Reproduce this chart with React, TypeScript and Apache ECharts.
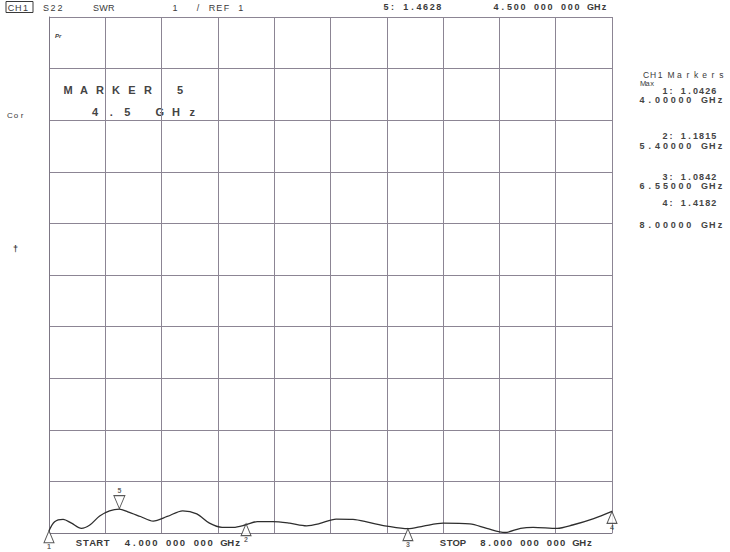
import React, { useEffect, useRef } from "react";
import * as echarts from "echarts";

const freqGHz = [4.0, 4.04, 4.1, 4.16, 4.23, 4.29, 4.36, 4.43, 4.5, 4.56, 4.65, 4.74, 4.84, 4.95, 5.05, 5.14, 5.23, 5.31, 5.4, 5.48, 5.59, 5.71, 5.83, 5.92, 6.04, 6.16, 6.28, 6.4, 6.55, 6.66, 6.8, 6.99, 7.11, 7.24, 7.35, 7.44, 7.61, 7.72, 7.87, 8.0];
const swr = [1.043, 1.22, 1.265, 1.19, 1.09, 1.155, 1.33, 1.43, 1.463, 1.41, 1.32, 1.23, 1.32, 1.43, 1.37, 1.19, 1.11, 1.11, 1.16, 1.22, 1.22, 1.19, 1.14, 1.18, 1.27, 1.265, 1.2, 1.135, 1.084, 1.135, 1.19, 1.175, 1.09, 1.01, 1.09, 1.11, 1.09, 1.155, 1.28, 1.418];

const markerIds = ["1", "2", "3", "4"];
const markerFreq = [4.0, 5.4, 6.55, 8.0];
const markerSwr = [1.0426, 1.1815, 1.0842, 1.4182];
const activeMarkerId = "5";
const activeMarkerFreq = 4.5;
const activeMarkerSwr = 1.4628;

const markerReadouts = ["1: 1.0426", "2: 1.1815", "3: 1.0842", "4: 1.4182"];
const markerFreqLabels = ["4.00000 GHz", "5.40000 GHz", "6.55000 GHz", "8.00000 GHz"];

const xMin = 4, xMax = 8, xStep = 0.4;
const yMin = 1, yMax = 11, yStep = 1;

const FONT = "Liberation Sans";
const INK = "#3a3a3a";

// monospaced-looking text: each glyph centred in a fixed-width cell
function spaced(text: string, x0: number, y: number, step: number, size = 9, weight = "normal", fill = INK) {
  const children: any[] = [];
  for (let i = 0; i < text.length; i++) {
    const ch = text[i];
    if (ch === " ") continue;
    children.push({
      type: "text",
      x: x0 + 3 + i * step,
      y,
      style: {
        text: ch,
        fill,
        font: `${weight} ${size}px "${FONT}"`,
        textAlign: "center",
        textVerticalAlign: "middle",
      },
    });
  }
  return { type: "group", children };
}

function txt(text: string, x: number, y: number, extra: any = {}) {
  return {
    type: "text",
    x,
    y,
    style: {
      text,
      fill: INK,
      font: `9px "${FONT}"`,
      textVerticalAlign: "middle",
      ...extra,
    },
  };
}

export default function App() {
  const ref = useRef<HTMLDivElement>(null);
  useEffect(() => {
    if (!ref.current) return;
    const chart = echarts.init(ref.current, undefined, { renderer: "svg" });
    const readoutY = [91, 136, 177, 203];
    const freqY = [100, 146, 186, 225];
    chart.setOption({
      animation: false,
      backgroundColor: "#ffffff",
      grid: { left: 49, top: 17, width: 563, height: 516, show: false },
      xAxis: {
        type: "value",
        min: xMin,
        max: xMax,
        interval: xStep,
        axisLabel: { show: false },
        axisTick: { show: false },
        axisLine: { show: true, lineStyle: { color: "#7d7785", width: 1 } },
        splitLine: { show: true, lineStyle: { color: "#8c8594", width: 1 } },
      },
      yAxis: {
        type: "value",
        min: yMin,
        max: yMax,
        interval: yStep,
        axisLabel: { show: false },
        axisTick: { show: false },
        axisLine: { show: true, lineStyle: { color: "#7d7785", width: 1 } },
        splitLine: { show: true, lineStyle: { color: "#8c8594", width: 1 } },
      },
      series: [
        {
          type: "line",
          data: freqGHz.map((f, i) => [f, swr[i]]),
          showSymbol: false,
          smooth: 0.3,
          lineStyle: { color: "#2e2e2e", width: 1.3 },
          z: 3,
        },
        {
          type: "scatter",
          data: markerFreq.map((f, i) => ({ value: [f, markerSwr[i]], name: markerIds[i] })),
          symbol: "triangle",
          symbolSize: [10, 12],
          symbolOffset: [0, 6],
          itemStyle: { color: "#ffffff", borderColor: "#2e2e2e", borderWidth: 1 },
          label: {
            show: true,
            position: "bottom",
            distance: 0,
            formatter: (p: any) => p.name,
            color: INK,
            fontSize: 7,
            fontWeight: "bold",
            fontFamily: FONT,
          },
          z: 4,
        },
        {
          type: "scatter",
          data: [{ value: [activeMarkerFreq, activeMarkerSwr], name: activeMarkerId }],
          symbol: "triangle",
          symbolRotate: 180,
          symbolSize: [11, 13],
          symbolOffset: [0, -7],
          itemStyle: { color: "#ffffff", borderColor: "#2e2e2e", borderWidth: 1 },
          label: {
            show: true,
            position: "top",
            distance: 1,
            formatter: (p: any) => p.name,
            color: INK,
            fontSize: 7,
            fontWeight: "bold",
            fontFamily: FONT,
          },
          z: 4,
        },
      ],
      graphic: [
        {
          type: "rect",
          shape: { x: 6, y: 1.5, width: 27, height: 11 },
          style: { fill: "none", stroke: INK, lineWidth: 1 },
        },
        spaced("CH1", 8, 7.5, 7.3, 9),
        spaced("S22", 43, 7.5, 7, 9),
        spaced("SWR", 93, 7.5, 7.6, 9),
        spaced("1", 172, 7.5, 7, 9),
        spaced("/", 195, 7.5, 7, 9),
        spaced("REF 1", 209, 7.5, 7.2, 9),
        spaced("5: 1.4628", 383, 7, 6.6, 9, "bold"),
        spaced("4.500 000 000 GHz", 493, 7, 6.75, 9, "bold"),
        txt("Pr", 55, 36, { font: `italic bold 6px "${FONT}"` }),
        spaced("MARKER 5", 65, 90, 16, 11, "bold", "#444"),
        spaced("4.5 GHz", 92, 112, 16.2, 11, "bold", "#444"),
        spaced("Cor", 7, 115, 6, 8),
        txt("†", 13, 249, { font: `bold 9px "${FONT}"` }),
        spaced("CH1", 643, 75, 7, 8.5),
        spaced("Markers", 668, 75, 8.4, 8.5),
        spaced("Max", 640, 83, 4.5, 7.5),
        ...markerReadouts.map((s, i) => spaced(s, 662, readoutY[i], 6.1, 9, "bold", "#444")),
        ...markerFreqLabels.map((s, i) => spaced(s, 639, freqY[i], 7.8, 9, "bold", "#444")),
        spaced("START  4.000 000 000 GHz", 76, 542, 6.9, 9.5, "bold"),
        spaced("STOP  8.000 000 000 GHz", 440, 542, 6.65, 9.5, "bold"),
      ],
    });
    return () => chart.dispose();
  }, []);
  return (
    <div
      ref={ref}
      style={{ position: "fixed", left: 0, top: 0, width: 730, height: 552 }}
    />
  );
}
